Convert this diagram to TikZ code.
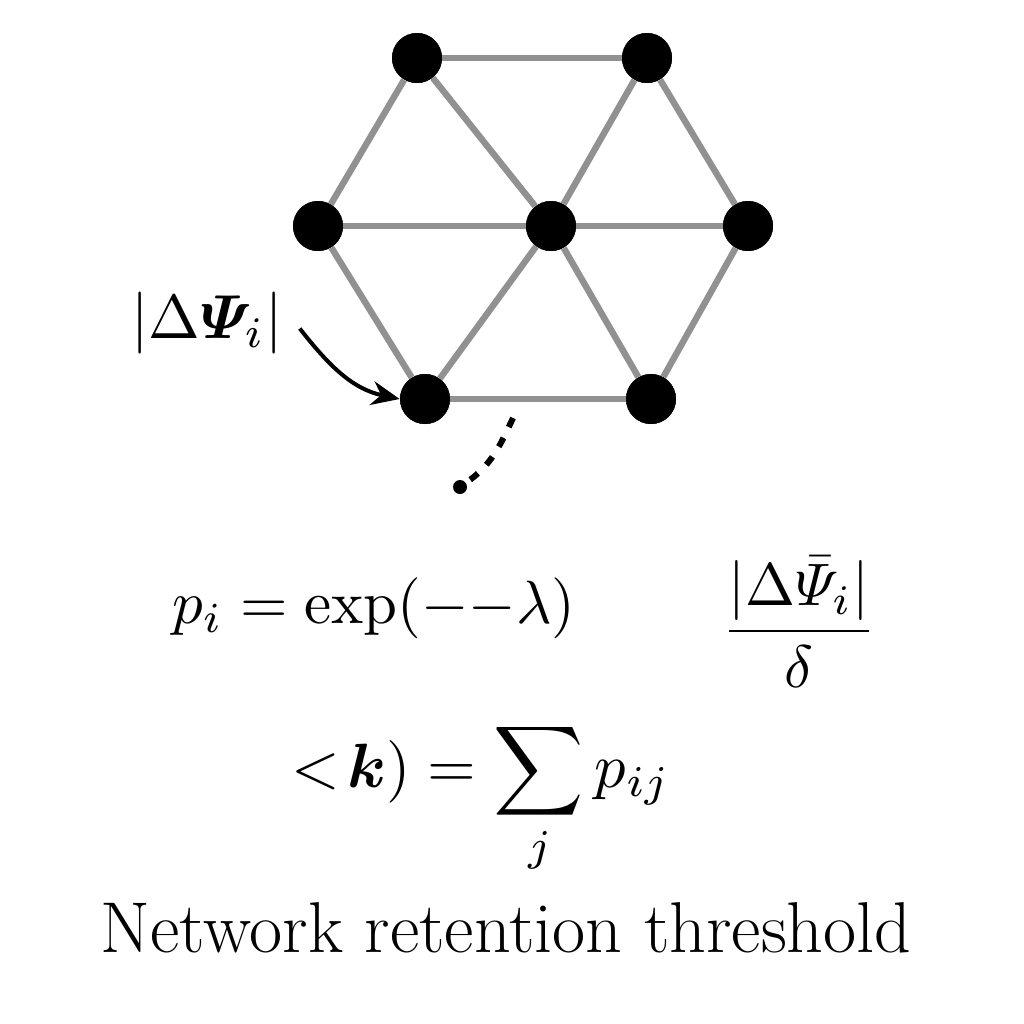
\documentclass[tikz,border=0pt]{standalone}
\usepackage{amsmath,bm}
\usetikzlibrary{arrows.meta}
\definecolor{edgegray}{HTML}{919191}
\tikzset{
  vtx/.style={circle,fill=black,minimum size=25pt,inner sep=0pt},
  link/.style={draw=edgegray,line width=3.2pt},
  mathtext/.style={inner sep=0pt,anchor=base,font=\fontsize{10}{12}\selectfont},
}
\begin{document}
\begin{tikzpicture}[x=0.5pt,y=-0.5pt]
\useasboundingbox (0,0) rectangle (1024,1024);
% vertices
\node[vtx] (tl) at (417,58) {};
\node[vtx] (tr) at (647,58) {};
\node[vtx] (ml) at (318,226) {};
\node[vtx] (c)  at (551,226) {};
\node[vtx] (mr) at (748,226) {};
\node[vtx] (bl) at (425,399) {};
\node[vtx] (br) at (651,399) {};
% edges
\draw[link] (tl) -- (tr);
\draw[link] (tl) -- (ml);
\draw[link] (tl) -- (c);
\draw[link] (tr) -- (c);
\draw[link] (tr) -- (mr);
\draw[link] (ml) -- (c);
\draw[link] (c) -- (mr);
\draw[link] (ml) -- (bl);
\draw[link] (c) -- (bl);
\draw[link] (c) -- (br);
\draw[link] (mr) -- (br);
\draw[link] (bl) -- (br);
% redraw vertices on top of the edges
\foreach \n in {tl,tr,ml,c,mr,bl,br} \fill (\n) circle (12.5pt);
% label and arrow
\node[mathtext,scale=3.1] (lab) at (207,338) {$\lvert\Delta\bm{\varPsi}_i\rvert$};
\draw[line width=2pt,-{Stealth[length=14pt,width=12pt]}] ([xshift=8pt,yshift=-3pt]lab.east) to[out=-52,in=168] (bl.west);
% dotted tail
\coordinate (dstart) at (513,418);
\node[circle,fill=black,minimum size=7pt,inner sep=0pt] (dot) at (460,487) {};
\draw[line width=3pt,dash pattern=on 5pt off 6pt] (dstart) to[out=-115,in=35] (dot);
% formulas
\node[mathtext,scale=3.05] (f1) at (374,623) {$p_i=\exp(-{-}\lambda)$};
\node[mathtext,scale=3.0] (f2) at (799,646) {$\dfrac{\lvert\Delta\bar{\varPsi}_i\rvert}{\delta}$};
\node[mathtext,scale=3.13] (f3) at (481,787) {$\displaystyle <\!\bm{k})=\sum_j p_{ij}$};
\node[inner sep=0pt,anchor=base,font=\fontsize{36}{43}\selectfont] (title) at (506,952) {Network retention threshold};
\end{tikzpicture}
\end{document}
